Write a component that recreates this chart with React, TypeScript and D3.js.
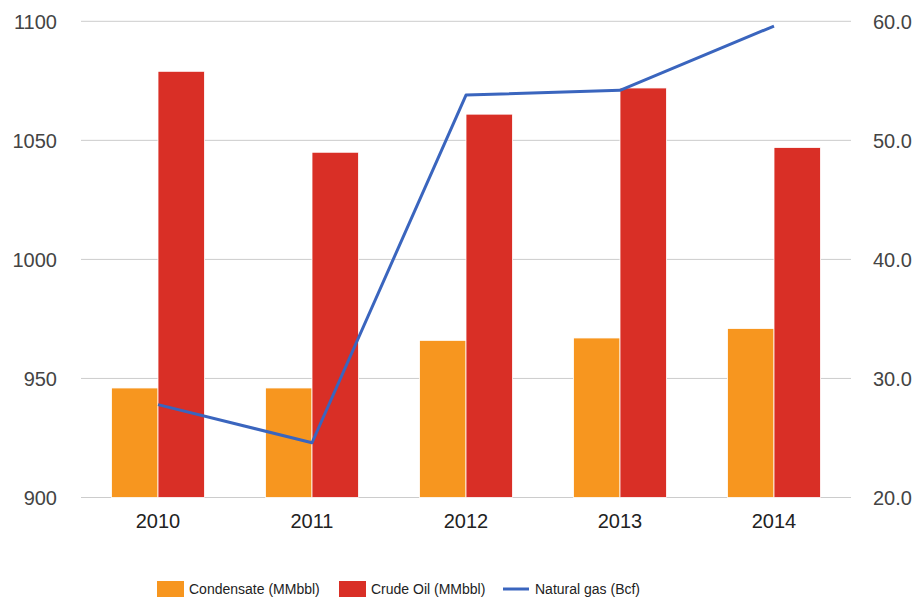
import React from "react";
import * as d3 from "d3";

const years = ["2010", "2011", "2012", "2013", "2014"];
const condensate = [946, 946, 966, 967, 971];
const crudeOil = [1079, 1045, 1061, 1072, 1047];
const naturalGas = [27.8, 24.6, 53.8, 54.2, 59.6];
const leftTicks = [900, 950, 1000, 1050, 1100];
const rightTicks = [20, 30, 40, 50, 60];
const seriesNames = ["Condensate (MMbbl)", "Crude Oil (MMbbl)", "Natural gas (Bcf)"];

const W = 921;
const H = 602;
const plotLeft = 81;
const plotRight = 851;
const plotTop = 21.3;
const plotBottom = 497.5;
const ORANGE = "#f7961f";
const RED = "#d92f26";
const BLUE = "#3a65be";
const FONT = "'Liberation Sans', Arial, sans-serif";

export default function App() {
  const x0 = d3.scaleBand<string>().domain(years).range([plotLeft, plotRight]);
  const bw = x0.bandwidth();
  const groupW = 93;
  const x1 = d3
    .scaleBand<string>()
    .domain(["c", "o"])
    .range([(bw - groupW) / 2, (bw + groupW) / 2]);
  const yL = d3.scaleLinear().domain([900, 1100]).range([plotBottom, plotTop]);
  const yR = d3.scaleLinear().domain([20, 60]).range([plotBottom, plotTop]);

  const line = d3
    .line<number>()
    .x((_, i) => (x0(years[i]) as number) + bw / 2)
    .y((d) => yR(d));

  const legend = [
    { name: seriesNames[0], x: 157, type: "rect", color: ORANGE },
    { name: seriesNames[1], x: 339, type: "rect", color: RED },
    { name: seriesNames[2], x: 503, type: "line", color: BLUE },
  ];

  return (
    <svg
      width={W}
      height={H}
      style={{ position: "absolute", left: 0, top: 0, background: "#fff" }}
      fontFamily={FONT}
    >
      {leftTicks.map((t) => (
        <g key={"g" + t}>
          <line
            x1={plotLeft}
            x2={plotRight}
            y1={yL(t)}
            y2={yL(t)}
            stroke="#cccccc"
            strokeWidth={1}
          />
          <text
            x={57}
            y={yL(t)}
            dy="0.36em"
            textAnchor="end"
            fontSize={20}
            fill="#444"
          >
            {t}
          </text>
        </g>
      ))}
      {rightTicks.map((t) => (
        <text
          key={"r" + t}
          x={873}
          y={yR(t)}
          dy="0.36em"
          textAnchor="start"
          fontSize={20}
          fill="#444"
        >
          {t.toFixed(1)}
        </text>
      ))}
      {years.map((yr, i) => {
        const gx = x0(yr) as number;
        return (
          <g key={yr}>
            <rect
              x={gx + (x1("c") as number)}
              y={yL(condensate[i])}
              width={x1.bandwidth()}
              height={plotBottom - yL(condensate[i])}
              fill={ORANGE}
              stroke="#fff"
              strokeWidth={0.8}
            />
            <rect
              x={gx + (x1("o") as number)}
              y={yL(crudeOil[i])}
              width={x1.bandwidth()}
              height={plotBottom - yL(crudeOil[i])}
              fill={RED}
              stroke="#fff"
              strokeWidth={0.8}
            />
            <text
              x={gx + bw / 2}
              y={528}
              textAnchor="middle"
              fontSize={20}
              fill="#222"
            >
              {yr}
            </text>
          </g>
        );
      })}
      <path
        d={line(naturalGas) || ""}
        fill="none"
        stroke={BLUE}
        strokeWidth={3}
        strokeLinejoin="round"
      />
      {legend.map((l) => (
        <g key={l.name}>
          {l.type === "rect" ? (
            <rect x={l.x} y={581} width={27} height={16} fill={l.color} />
          ) : (
            <line
              x1={l.x}
              x2={l.x + 26}
              y1={589}
              y2={589}
              stroke={l.color}
              strokeWidth={3}
            />
          )}
          <text x={l.x + 32} y={589} dy="0.36em" fontSize={14} fill="#222">
            {l.name}
          </text>
        </g>
      ))}
    </svg>
  );
}
